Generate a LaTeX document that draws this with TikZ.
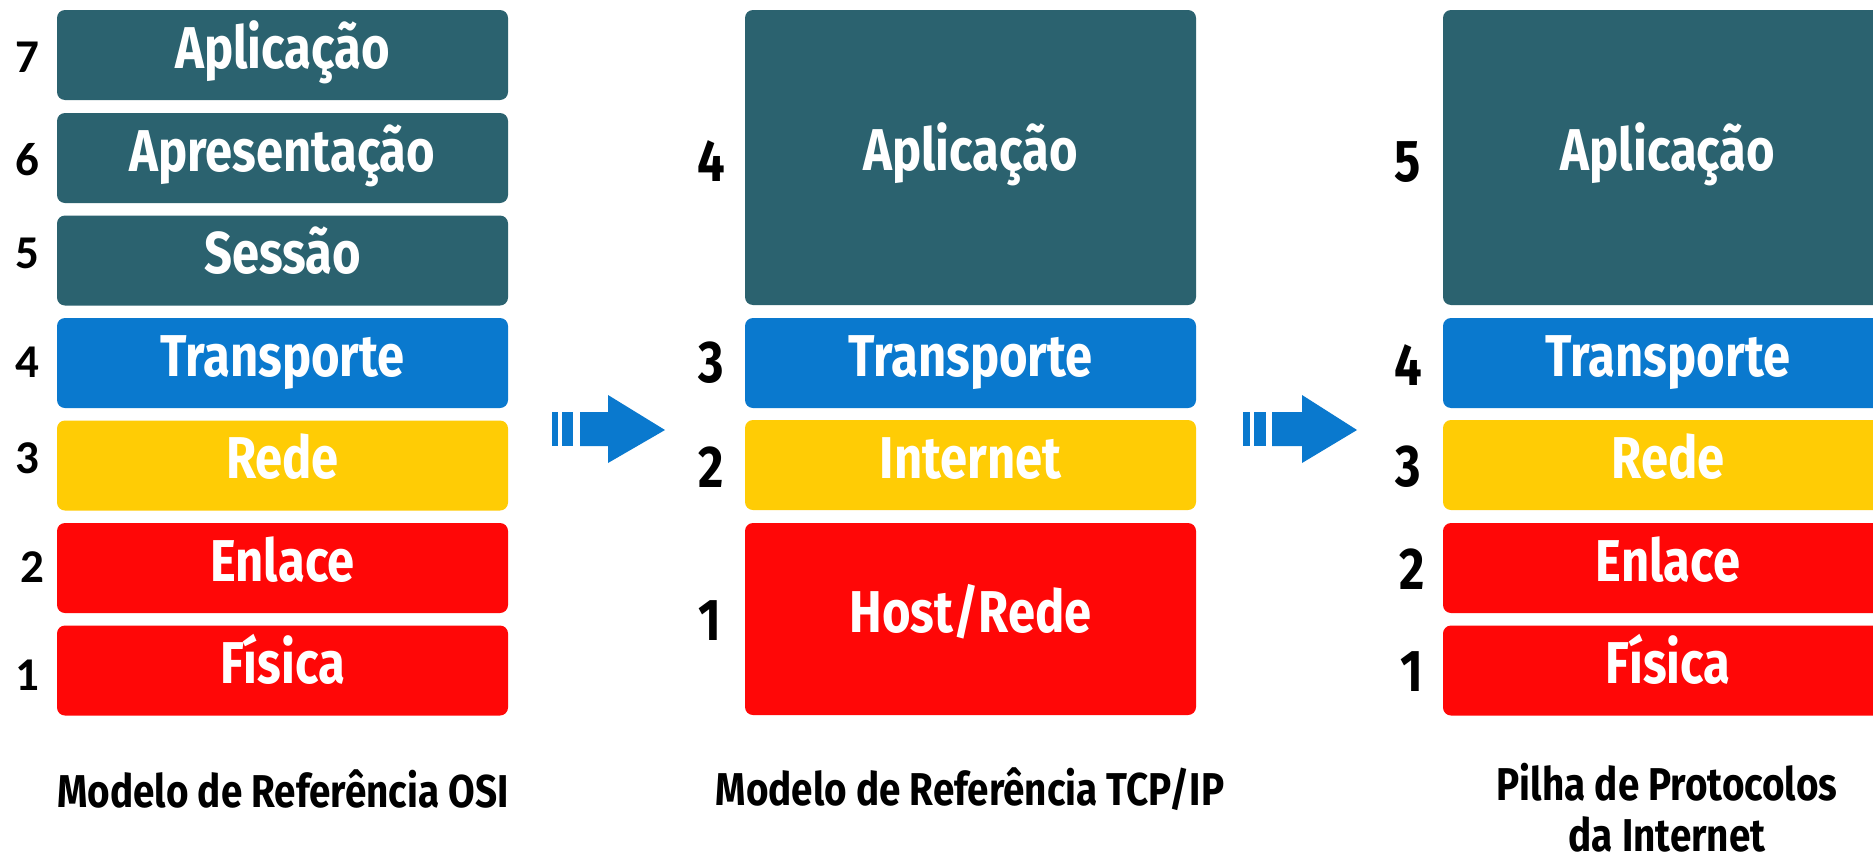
\documentclass[tikz,border=0pt]{standalone}
\usepackage{fontspec}
\newfontfamily\boxfont[FakeStretch=0.83]{Fira Sans}
\newfontfamily\numfont{Carlito}
\newfontfamily\capfont[FakeStretch=0.84]{Fira Sans}
\definecolor{layteal}{HTML}{2B626F}
\definecolor{layblue}{HTML}{0A79CE}
\definecolor{layyellow}{HTML}{FFCC05}
\definecolor{layred}{HTML}{FF0707}
\begin{document}
\begin{tikzpicture}[x=1pt,y=-1pt,
  layer/.style={rounded corners=8pt, draw=none, text=white, inner sep=0pt,
    font=\boxfont\bfseries\fontsize{59}{59}\selectfont, text height=26pt, text depth=0pt,
    minimum width=451pt, minimum height=90pt},
  osinum/.style={anchor=base, inner sep=0pt, font=\numfont\bfseries\fontsize{47}{47}\selectfont},
  stacknum/.style={anchor=base, inner sep=0pt, font=\boxfont\bfseries\fontsize{59}{59}\selectfont},
  caption/.style={anchor=base, inner sep=0pt, align=center, font=\capfont\bfseries\fontsize{46}{51}\selectfont},
  flowarrow/.style={fill=layblue, draw=none}]
\clip (0,0) rectangle (1873,862);
\fill[white] (0,0) rectangle (1873,862);

% OSI column
\node[layer, fill=layteal]   (osi7) at (282.5,55)    {Aplicação};
\node[layer, fill=layteal]   (osi6) at (282.5,158)   {Apresentação};
\node[layer, fill=layteal]   (osi5) at (282.5,260.5) {Sessão};
\node[layer, fill=layblue]   (osi4) at (282.5,363)   {Transporte};
\node[layer, fill=layyellow] (osi3) at (282.5,465.5) {Rede};
\node[layer, fill=layred]    (osi2) at (282.5,568)   {Enlace};
\node[layer, fill=layred]    (osi1) at (282.5,670.5) {Física};
\node[osinum] (no7) at (27,72)  {7};
\node[osinum] (no6) at (27,175) {6};
\node[osinum] (no5) at (27,268) {5};
\node[osinum] (no4) at (27,377) {4};
\node[osinum] (no3) at (27,473) {3};
\node[osinum] (no2) at (32,582) {2};
\node[osinum] (no1) at (27,690) {1};
\node[caption] (caposi) at (283,807) {Modelo de Referência OSI};

% TCP/IP column
\node[layer, fill=layteal, minimum height=295pt]   (tcp4) at (970.5,157.5) {Aplicação};
\node[layer, fill=layblue]                         (tcp3) at (970.5,363)   {Transporte};
\node[layer, fill=layyellow]                       (tcp2) at (970.5,465)   {Internet};
\node[layer, fill=layred, minimum height=192pt]    (tcp1) at (970.5,619)   {Host/Rede};
\node[stacknum] (nt4) at (711,181) {4};
\node[stacknum] (nt3) at (711,382) {3};
\node[stacknum] (nt2) at (711,487) {2};
\node[stacknum] (nt1) at (710,640) {1};
\node[caption] (captcp) at (970,805) {Modelo de Referência TCP/IP};

% Internet stack column
\node[layer, fill=layteal, minimum height=295pt, minimum width=450pt] (ip5) at (1668,157.5) {Aplicação};
\node[layer, fill=layblue,   minimum width=450pt] (ip4) at (1668,363)   {Transporte};
\node[layer, fill=layyellow, minimum width=450pt] (ip3) at (1668,465)   {Rede};
\node[layer, fill=layred,    minimum width=450pt] (ip2) at (1668,568)   {Enlace};
\node[layer, fill=layred,    minimum width=450pt] (ip1) at (1668,670.5) {Física};
\node[stacknum] (ni5) at (1408,181) {5};
\node[stacknum] (ni4) at (1408,385) {4};
\node[stacknum] (ni3) at (1408,486) {3};
\node[stacknum] (ni2) at (1412,589) {2};
\node[stacknum] (ni1) at (1412,691) {1};
\node[caption] (capip) at (1667,851) {Pilha de Protocolos\\da Internet};

% arrows between columns
\fill[flowarrow] (552,412) rectangle (558,446);
\fill[flowarrow] (562,412) rectangle (573,446);
\fill[flowarrow] (580,412) -- (608,412) -- (608,395) -- (665,430) -- (608,463) -- (608,446) -- (580,446) -- cycle;
\fill[flowarrow] (1243,412) rectangle (1250,446);
\fill[flowarrow] (1254,412) rectangle (1266,446);
\fill[flowarrow] (1272,412) -- (1302,412) -- (1302,395) -- (1357,430) -- (1302,463) -- (1302,446) -- (1272,446) -- cycle;
\end{tikzpicture}
\end{document}
